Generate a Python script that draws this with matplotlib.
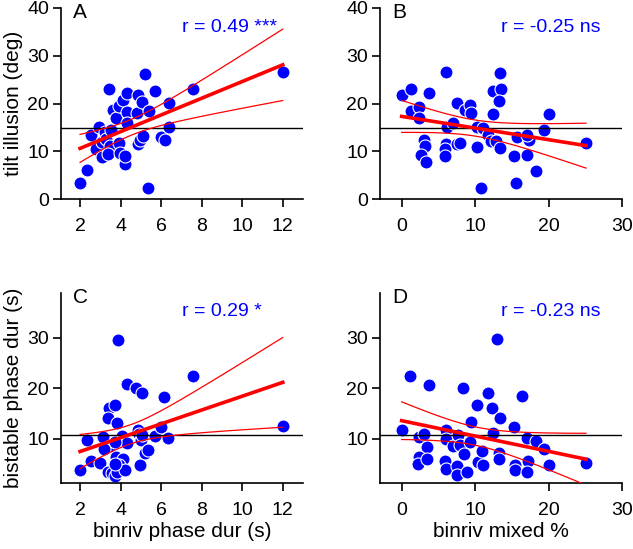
import numpy as np
import matplotlib
matplotlib.use('Agg')
import matplotlib.pyplot as plt

plt.rcParams['font.family'] = ['Liberation Sans', 'DejaVu Sans']

# ---------- data ----------
# A: binriv phase dur (s) vs tilt illusion (deg)
a_x = [2.0, 2.36, 2.55, 2.95, 2.79, 3.07, 3.07, 3.23, 3.3, 3.45, 3.48, 3.4, 3.64, 3.55,
       3.77, 3.9, 3.9, 3.97, 4.13, 4.2, 4.2, 4.3, 4.3, 4.3, 4.87, 4.8, 4.88, 4.96, 5.04,
       5.1, 5.2, 5.4, 5.37, 5.7, 6.0, 6.2, 6.4, 6.4, 7.56, 12.0]
a_y = [3.3, 6.0, 13.5, 15.0, 10.5, 12.0, 8.9, 14.1, 12.6, 23.0, 11.0, 9.5, 18.7, 14.4,
       16.9, 19.5, 11.7, 9.6, 20.8, 7.4, 9.1, 22.3, 18.3, 15.9, 21.8, 18.1, 11.6, 12.3, 20.4,
       13.1, 26.2, 18.5, 2.4, 22.7, 12.9, 12.4, 20.2, 15.1, 23.1, 26.7]

# B: binriv mixed % vs tilt illusion (deg)
b_x = [0.0, 1.22, 1.22, 2.3, 2.3, 3.76, 6.03, 3.0, 3.2, 2.7, 3.3, 6.0, 5.9, 5.94, 6.2,
       7.0, 7.5, 7.5, 7.9, 8.6, 9.3, 9.4, 10.3, 10.2, 10.84, 11.1, 11.75, 12.1, 12.4, 12.5,
       13.4, 13.5, 13.3, 12.9, 13.4, 15.3, 15.5, 15.7, 17.1, 17.3, 17.1, 18.3, 19.4, 20.1, 25.1]
b_y = [21.8, 23.1, 18.5, 19.3, 17.0, 22.3, 26.5, 12.3, 11.0, 9.3, 7.7, 11.6, 10.5, 9.1, 15.1,
       15.9, 20.2, 11.6, 11.7, 18.7, 19.6, 18.1, 15.0, 10.8, 2.3, 14.9, 13.3, 12.1, 17.9, 22.6,
       26.4, 23.0, 20.6, 12.1, 10.7, 9.1, 3.35, 13.0, 9.3, 12.4, 13.5, 5.8, 14.4, 17.7, 11.7]

# C: binriv phase dur (s) vs bistable phase dur (s)
c_x = [2.0, 2.36, 2.53, 3.0, 3.15, 3.36, 3.44, 3.4, 3.73, 3.84, 3.5, 3.6, 3.73, 3.78, 3.89,
       4.05, 4.14, 3.94, 3.84, 4.23, 4.3, 4.3, 4.78, 4.85, 4.9, 5.07, 5.0, 5.04, 4.98, 5.2,
       5.35, 5.7, 6.0, 6.15, 6.36, 7.56, 12.0, 3.7, 3.2, 3.7]
c_y = [3.9, 9.7, 5.6, 5.2, 10.3, 3.4, 16.1, 14.2, 16.7, 13.2, 8.5, 3.2, 2.6, 6.4, 29.6,
       10.5, 6.1, 4.9, 3.5, 3.9, 20.8, 9.2, 20.0, 11.8, 11.0, 19.0, 9.8, 10.8, 4.8, 7.2,
       7.7, 10.6, 12.3, 18.3, 10.2, 22.4, 12.5, 9.3, 8.0, 5.0]

# D: binriv mixed % vs bistable phase dur (s)
d_x = [0.0, 1.13, 3.76, 2.4, 3.04, 3.4, 2.4, 2.27, 3.5, 6.03, 6.1, 5.94, 6.0, 6.94, 7.7,
       7.6, 7.5, 8.3, 7.94, 8.5, 8.85, 9.35, 9.4, 10.2, 10.4, 10.9, 11.1, 11.8, 12.3, 12.4,
       13.0, 13.4, 13.3, 13.2, 15.3, 15.4, 15.4, 16.4, 17.1, 17.2, 17.0, 18.3, 19.4, 20.1, 25.1]
d_y = [11.8, 22.4, 20.7, 10.4, 10.9, 8.4, 6.5, 5.1, 6.1, 11.8, 9.9, 5.7, 4.0, 8.5, 10.7,
       4.6, 2.9, 20.0, 8.7, 7.0, 3.5, 9.4, 13.3, 16.7, 5.5, 7.6, 4.8, 19.0, 16.2, 11.1,
       29.7, 14.1, 7.2, 6.1, 12.4, 4.9, 3.8, 18.4, 10.1, 5.6, 3.4, 9.5, 8.0, 4.8, 5.2]

# regression lines as drawn in the figure (intercept, slope) and group means
fit_intercept = [7.1, 17.3, 4.75, 13.6]
fit_slope = [1.75, -0.244, 1.37, -0.304]
group_mean = [14.8, 14.8, 10.7, 10.7]

letters = ['A', 'B', 'C', 'D']
r_labels = ['r = 0.49 ***', 'r = -0.25 ns', 'r = 0.29 *', 'r = -0.23 ns']
xlabels = ['', '', 'binriv phase dur (s)', 'binriv mixed %']
ylabels = ['tilt illusion (deg)', '', 'bistable phase dur (s)', '']

BLUE = '#0000ff'
T95 = 2.02  # t quantile for ~40 dof


def band(x, y, a, b):
    # 95% confidence band of the regression line
    x = np.asarray(x, float)
    y = np.asarray(y, float)
    n = len(x)
    s = np.sqrt(np.sum((y - (a + b * x)) ** 2) / (n - 2))
    sxx = np.sum((x - x.mean()) ** 2)
    xs = np.linspace(x.min(), x.max(), 100)
    yf = a + b * xs
    half = T95 * s * np.sqrt(1 / n + (xs - x.mean()) ** 2 / sxx)
    return xs, yf, yf - half, yf + half


fig = plt.figure(figsize=(6.33, 5.49), dpi=100)
W, H = 633, 549
boxes = [(61, 8, 303, 199), (380, 8, 622, 199), (61, 293, 303, 483), (380, 293, 622, 483)]
data = [(a_x, a_y), (b_x, b_y), (c_x, c_y), (d_x, d_y)]

for i, ((l, t, r, b), (x, y)) in enumerate(zip(boxes, data)):
    ax = fig.add_axes([l / W, 1 - b / H, (r - l) / W, (b - t) / H])
    ax.scatter(x, y, s=88, c=BLUE, edgecolors='white', linewidths=0.8, zorder=2)
    ax.axhline(group_mean[i], color='black', lw=1.0, zorder=3)
    xs, yf, lo, hi = band(x, y, fit_intercept[i], fit_slope[i])
    ax.plot(xs, yf, color='red', lw=2.6, zorder=4)
    ax.plot(xs, lo, color='red', lw=0.9, zorder=4)
    ax.plot(xs, hi, color='red', lw=0.9, zorder=4)

    if i % 2 == 0:
        ax.set_xlim(1.06, 13)
        ax.set_xticks([2, 4, 6, 8, 10, 12])
    else:
        ax.set_xlim(-2.95, 30)
        ax.set_xticks([0, 10, 20, 30])
    if i < 2:
        ax.set_ylim(0, 40)
        ax.set_yticks([0, 10, 20, 30, 40])
    else:
        ax.set_ylim(1.25, 38.9)
        ax.set_yticks([10, 20, 30])

    for side in ['top', 'right']:
        ax.spines[side].set_visible(False)
    for side in ['left', 'bottom']:
        ax.spines[side].set_linewidth(1.2)
    ax.tick_params(direction='out', length=5.5, width=1.2, labelsize=14)
    ax.tick_params(axis='x', pad=8)
    ax.tick_params(axis='y', pad=3)

    ax.text(0.05, 0.975, letters[i], transform=ax.transAxes, fontsize=15,
            ha='left', va='center')
    ax.text(0.5, 0.9, r_labels[i], transform=ax.transAxes, fontsize=14,
            color=BLUE, ha='left', va='center')
    if xlabels[i]:
        ax.set_xlabel(xlabels[i], fontsize=15, labelpad=2)
    if ylabels[i]:
        ax.set_ylabel(ylabels[i], fontsize=15, labelpad=3)

plt.savefig('out.png', dpi=100)
